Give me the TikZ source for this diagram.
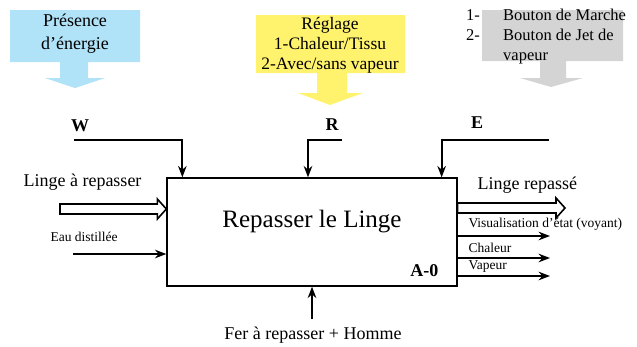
\documentclass[tikz,border=0pt]{standalone}
\usepackage{fontspec}
\setmainfont{Liberation Serif}
\usetikzlibrary{arrows.meta,positioning,calc}
\definecolor{callblue}{HTML}{B0E2F8}
\definecolor{callyellow}{HTML}{FFF36E}
\definecolor{callgray}{HTML}{D4D4D4}
\tikzset{
	fn/.style={draw, line width=1.3pt, minimum width=290pt, minimum height=108pt, inner sep=0pt},
	flow/.style={-{Stealth[length=4mm, width=3mm]}, line width=2pt},
	ctrl/.style={-{Stealth[length=4mm, width=3mm]}, line width=2pt},
	hollow/.style={draw, line width=1.6pt, fill=white},
	big/.style={font=\fontsize{18}{21}\selectfont},
	small/.style={font=\fontsize{13.5}{16}\selectfont},
	tag/.style={font=\fontsize{18}{21}\selectfont\bfseries}
}
% hollow arrow from #1 to #2 (same height)
\newcommand{\hollowarrow}[2]{%
	\path[hollow] ($(#1)+(0,-5)$) -- ($(#2)+(-9,-5)$) -- ($(#2)+(-9,-10)$) -- (#2)
		-- ($(#2)+(-9,10)$) -- ($(#2)+(-9,5)$) -- ($(#1)+(0,5)$) -- cycle;}

\begin{document}
\begin{tikzpicture}[x=1pt, y=-1pt]
	\useasboundingbox (0,0) rectangle (637,346);
	% callouts
	\fill[callblue] (10,10) -- (140,10) -- (140,62) -- (88,62) -- (88,78) -- (105,78) -- (75,88)
		-- (45,78) -- (60,78) -- (60,62) -- (10,62) -- cycle;
	\fill[callyellow] (256,15) -- (405,15) -- (405,73) -- (347,73) -- (347,93) -- (363,93) -- (330,105)
		-- (298,93) -- (317,93) -- (317,73) -- (256,73) -- cycle;
	\fill[callgray] (482,10) -- (623,10) -- (623,61) -- (566,61) -- (566,78) -- (583,78) -- (551,87)
		-- (520,78) -- (540,78) -- (540,61) -- (482,61) -- cycle;
	\node[align=center, font=\fontsize{18}{23}\selectfont] (energie) at (75,34) {Présence\\d’énergie};
	\node[align=center, font=\fontsize{17.5}{20}\selectfont] (reglage) at (330,45) {Réglage\\1-Chaleur/Tissu\\2-Avec/sans vapeur};
	\node[align=left, anchor=north west, inner sep=0pt, font=\fontsize{16.5}{20}\selectfont] (boutons) at (466,9)
		{\makebox[37pt][l]{1-}Bouton de Marche\\\makebox[37pt][l]{2-}Bouton de Jet de\\\hspace*{37pt}vapeur};

	% function box
	\node[fn] (fn) at (312,232) {};
	\node[font=\fontsize{25}{28}\selectfont] (titre) at (312,222) {Repasser le Linge};
	\node[tag, anchor=east] (ref) at (442,271) {A-0};

	% controls
	\node[tag] (w) at (80,126) {W};
	\node[tag] (r) at (332,125) {R};
	\node[tag] (e) at (477,123) {E};
	\coordinate (w0) at (74,140);
	\coordinate (r0) at (342,140);
	\coordinate (e0) at (549,140);
	\draw[ctrl] (w0) -| ([xshift=16pt]fn.north west);
	\draw[ctrl] (r0) -| ([xshift=-4pt]fn.north);
	\draw[ctrl] (e0) -| ([xshift=-16pt]fn.north east);

	% inputs
	\node[big, anchor=west] (linge) at (20,182) {Linge à repasser};
	\coordinate (linge0) at (60,209);
	\hollowarrow{linge0}{linge0 -| fn.west}
	\node[small, anchor=west] (eau) at (47,237) {Eau distillée};
	\coordinate (eau0) at (73,254);
	\draw[flow] (eau0) -- (eau0 -| fn.west);

	% outputs
	\node[big, anchor=west] (repasse) at (474,185) {Linge repassé};
	\coordinate (repasse0) at (565,208);
	\hollowarrow{repasse0 -| fn.east}{repasse0}
	\node[small, anchor=west] (visu) at (465,224) {Visualisation d’état (voyant)};
	\coordinate (visu0) at (550,236);
	\draw[flow] (visu0 -| fn.east) -- (visu0);
	\node[small, anchor=west] (chaleur) at (465,248) {Chaleur};
	\coordinate (chaleur0) at (550,258);
	\draw[flow] (chaleur0 -| fn.east) -- (chaleur0);
	\node[small, anchor=west] (vapeur) at (465,267) {Vapeur};
	\coordinate (vapeur0) at (550,276);
	\draw[flow] (vapeur0 -| fn.east) -- (vapeur0);

	% mechanism
	\node[big] (meca) at (313,335) {Fer à repasser + Homme};
	\coordinate (meca0) at (312,319);
	\draw[flow] (meca0) -- (meca0 |- fn.south);
\end{tikzpicture}
\end{document}
